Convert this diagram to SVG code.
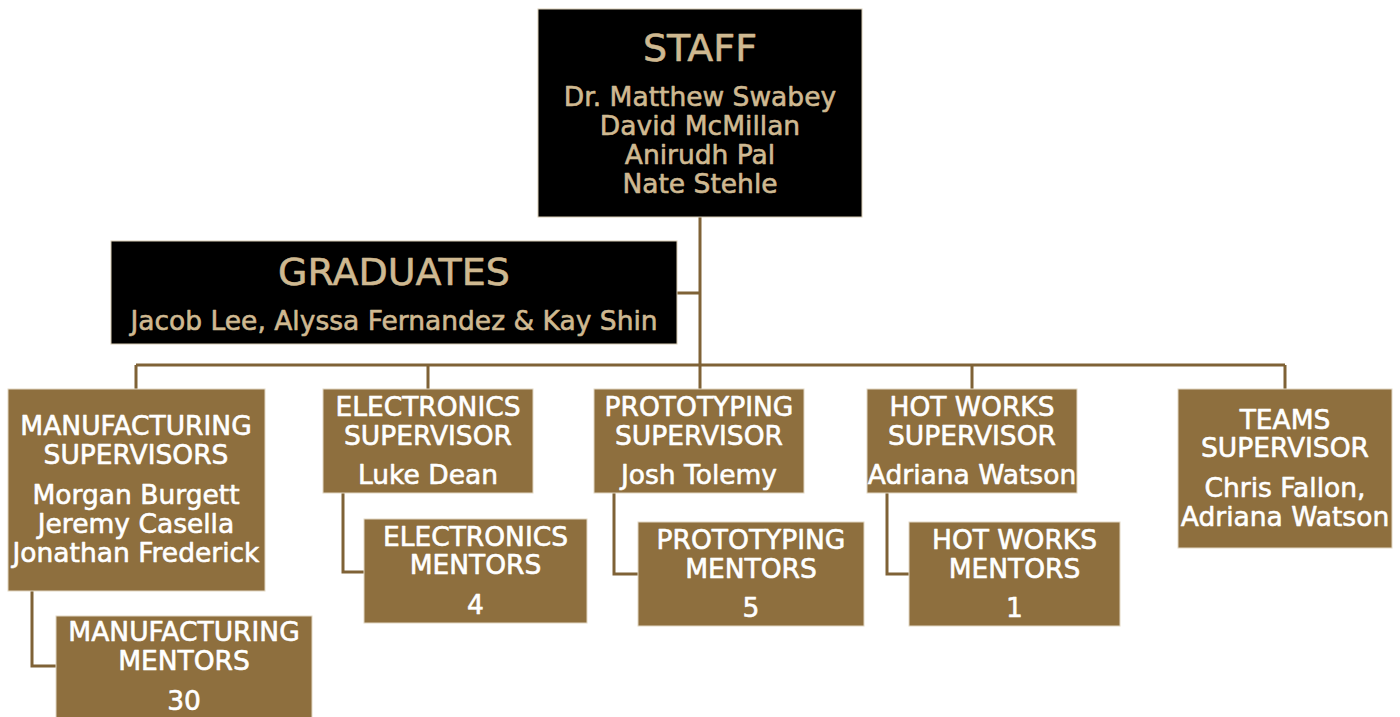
<svg xmlns="http://www.w3.org/2000/svg" width="1400" height="717" viewBox="0 0 1400 717">
<style>
.bk{fill:#000;stroke:#d8ccb4;stroke-width:1}
.gd{fill:#8E6F3E;stroke:#e2d8c4;stroke-width:1}
text{font-family:"DejaVu Sans","Liberation Sans",sans-serif;text-anchor:middle;stroke-width:0.6;stroke-linejoin:round}
.tg{fill:#CFB991;stroke:#CFB991}
.tw{fill:#fff;stroke:#fff}
.n{font-size:26.5px}
.h{font-size:38px}
.c{fill:none;stroke:#7F6236;stroke-width:3}
</style>
<rect width="1400" height="717" fill="#fff"/>
<g id="connectors">
<path class="c" d="M700,217V365M677,293H700M136,365H1285M136,365V389M428,365V389M700,365V389M972,365V389M1285,365V389"/>
<path class="c" d="M32,591V666H56M343,493V572H364M614,493V574H638M887,493V574H909"/>
</g>
<g id="staff">
<rect class="bk" x="538" y="9" width="324" height="208"/>
<text class="tg h" x="700" y="61">STAFF</text>
<text class="tg n" x="700" y="106">Dr. Matthew Swabey</text>
<text class="tg n" x="700" y="135">David McMillan</text>
<text class="tg n" x="700" y="164">Anirudh Pal</text>
<text class="tg n" x="700" y="193">Nate Stehle</text>
</g>
<g id="graduates">
<rect class="bk" x="111" y="241" width="566" height="103"/>
<text class="tg h" x="394" y="285">GRADUATES</text>
<text class="tg n" x="394" y="330">Jacob Lee, Alyssa Fernandez &amp; Kay Shin</text>
</g>
<g id="mfg-sup">
<rect class="gd" x="8" y="389" width="257" height="202"/>
<text class="tw n" x="136" y="435">MANUFACTURING</text>
<text class="tw n" x="136" y="464">SUPERVISORS</text>
<text class="tw n" x="136" y="504">Morgan Burgett</text>
<text class="tw n" x="136" y="533">Jeremy Casella</text>
<text class="tw n" x="136" y="562">Jonathan Frederick</text>
</g>
<g id="mfg-mentors">
<rect class="gd" x="56" y="616" width="256" height="110"/>
<text class="tw n" x="184" y="641">MANUFACTURING</text>
<text class="tw n" x="184" y="670">MENTORS</text>
<text class="tw n" x="184" y="710">30</text>
</g>
<g id="elec-sup">
<rect class="gd" x="323" y="389" width="210" height="104"/>
<text class="tw n" x="428" y="416">ELECTRONICS</text>
<text class="tw n" x="428" y="445">SUPERVISOR</text>
<text class="tw n" x="428" y="484">Luke Dean</text>
</g>
<g id="elec-mentors">
<rect class="gd" x="364" y="519" width="223" height="104"/>
<text class="tw n" x="475.5" y="546">ELECTRONICS</text>
<text class="tw n" x="475.5" y="574">MENTORS</text>
<text class="tw n" x="475.5" y="614">4</text>
</g>
<g id="proto-sup">
<rect class="gd" x="594" y="389" width="210" height="104"/>
<text class="tw n" x="699" y="416">PROTOTYPING</text>
<text class="tw n" x="699" y="445">SUPERVISOR</text>
<text class="tw n" x="699" y="484">Josh Tolemy</text>
</g>
<g id="proto-mentors">
<rect class="gd" x="638" y="522" width="226" height="104"/>
<text class="tw n" x="751" y="549">PROTOTYPING</text>
<text class="tw n" x="751" y="578">MENTORS</text>
<text class="tw n" x="751" y="617">5</text>
</g>
<g id="hot-sup">
<rect class="gd" x="867" y="389" width="210" height="104"/>
<text class="tw n" x="972" y="416">HOT WORKS</text>
<text class="tw n" x="972" y="445">SUPERVISOR</text>
<text class="tw n" x="972" y="484">Adriana Watson</text>
</g>
<g id="hot-mentors">
<rect class="gd" x="909" y="522" width="211" height="104"/>
<text class="tw n" x="1014.5" y="549">HOT WORKS</text>
<text class="tw n" x="1014.5" y="578">MENTORS</text>
<text class="tw n" x="1014.5" y="617">1</text>
</g>
<g id="teams-sup">
<rect class="gd" x="1178" y="389" width="214" height="159"/>
<text class="tw n" x="1285" y="429">TEAMS</text>
<text class="tw n" x="1285" y="457">SUPERVISOR</text>
<text class="tw n" x="1285" y="497">Chris Fallon,</text>
<text class="tw n" x="1285" y="526">Adriana Watson</text>
</g>
</svg>
